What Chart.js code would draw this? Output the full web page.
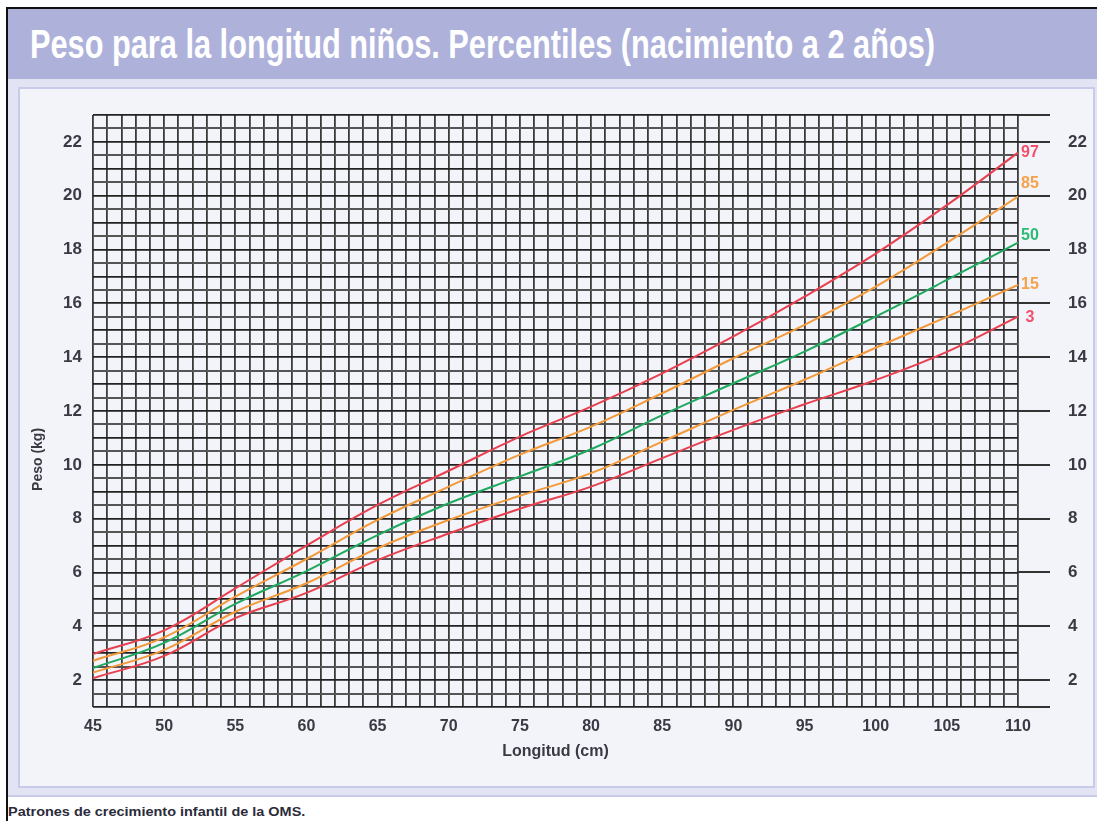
<!DOCTYPE html>
<html>
<head>
<meta charset="utf-8">
<script src="https://cdn.jsdelivr.net/npm/chart.js@4/dist/chart.umd.min.js"></script>
<style>
  body { margin: 0; background: #fff; width: 1097px; height: 821px; overflow: hidden; position: relative; }
  .abs { position: absolute; }
  #topline { left: 6px; top: 7px; right: 0; height: 2px; background: #111; }
  #leftline { left: 6px; top: 7px; bottom: 0; width: 2px; background: #111; }
  #band { left: 8px; top: 9px; right: 0; height: 70px; background: #aeb2db; }
  #outer { left: 8px; top: 79px; right: 0; height: 716px; background: #e2e3f3; border-bottom: 2px solid #c9cbe9; }
  #panel { left: 18px; top: 87px; width: 1073px; height: 697px; background: #f3f3fa; border: 2px solid #c8cbe9; }
  #title { left: 30px; top: 21px; color: #fff; font: bold 40px "Liberation Sans", Arial, sans-serif; line-height: 46px; white-space: nowrap; transform-origin: 0 0; }
  #foot { left: 8px; top: 804px; color: #2b2b3a; font: bold 13px "Liberation Sans", Arial, sans-serif; white-space: nowrap; transform-origin: 0 0; }
  canvas { position: absolute; left: 0; top: 0; }
</style>
</head>
<body>
<div class="abs" id="band"></div>
<div class="abs" id="outer"></div>
<div class="abs" id="panel"></div>
<div class="abs" id="topline"></div>
<div class="abs" id="leftline"></div>
<div class="abs" id="title">Peso para la longitud niños. Percentiles (nacimiento a 2 años)</div>
<div class="abs" id="foot">Patrones de crecimiento infantil de la OMS.</div>
<canvas id="chart" width="1097" height="821"></canvas>
<script>
// longitud (cm) and peso (kg)
var longitud = [45, 50, 55, 60, 65, 70, 75, 80, 85, 90, 95, 100, 105, 110];
var p97 = [2.97, 3.85, 5.41, 7.0, 8.51, 9.78, 11.05, 12.16, 13.4, 14.77, 16.25, 17.85, 19.65, 21.6];
var p85 = [2.72, 3.59, 5.1, 6.5, 7.95, 9.19, 10.38, 11.42, 12.66, 13.96, 15.2, 16.62, 18.25, 19.97];
var p50 = [2.45, 3.38, 4.83, 6.05, 7.39, 8.57, 9.57, 10.58, 11.85, 13.03, 14.21, 15.51, 16.87, 18.26];
var p15 = [2.28, 3.12, 4.54, 5.6, 6.9, 7.95, 8.85, 9.69, 10.86, 12.04, 13.16, 14.35, 15.5, 16.69];
var p3 = [2.07, 2.9, 4.3, 5.24, 6.46, 7.45, 8.37, 9.19, 10.25, 11.3, 12.25, 13.15, 14.2, 15.51];

var percentiles = ["97", "85", "50", "15", "3"];
var xTickLabels = [45, 50, 55, 60, 65, 70, 75, 80, 85, 90, 95, 100, 105, 110];
var yTickLabels = [2, 4, 6, 8, 10, 12, 14, 16, 18, 20, 22];

var FONT = "'Liberation Sans', Arial, sans-serif";
var lineColors = ["#e8404f", "#f29a3a", "#1fa95e", "#f29a3a", "#e8404f"];
var labelColors = ["#f2506a", "#f5a24a", "#2dba72", "#f5a24a", "#f2506a"];
var labelShift = [0, -13, -7, 0, 1];

// squeeze the header and footer texts to the width they take in the original
function fitWidth(id, w) {
  var el = document.getElementById(id);
  el.style.transform = "scaleX(" + (w / el.offsetWidth) + ")";
}
fitWidth("title", 905);
fitWidth("foot", 297);

function toPoints(arr) {
  return longitud.map(function (l, i) { return { x: l, y: arr[i] }; });
}

var series = [p97, p85, p50, p15, p3];
var datasets = series.map(function (s, i) {
  return {
    label: percentiles[i],
    data: toPoints(s),
    borderColor: lineColors[i],
    borderWidth: 2,
    pointRadius: 0,
    fill: false,
    tension: 0.4,
  };
});

// percentile names at the right end of each curve, and the y title (sits below centre)
var extraText = {
  id: "extraText",
  afterDatasetsDraw: function (chart) {
    var ctx = chart.ctx;
    var area = chart.chartArea;
    ctx.save();
    ctx.font = "bold 16px " + FONT;
    ctx.textAlign = "center";
    ctx.textBaseline = "middle";
    chart.data.datasets.forEach(function (ds, i) {
      var meta = chart.getDatasetMeta(i);
      var last = meta.data[meta.data.length - 1];
      ctx.fillStyle = labelColors[i];
      ctx.fillText(ds.label, area.right + 12, last.y + labelShift[i]);
    });
    ctx.translate(38, chart.scales.y.getPixelForValue(10.2));
    ctx.rotate(-Math.PI / 2);
    ctx.font = "bold 14px " + FONT;
    ctx.fillStyle = "#3a3a44";
    ctx.fillText("Peso (kg)", 0, 0);
    ctx.restore();
  },
};

var ctx = document.getElementById("chart").getContext("2d");
var chart = new Chart(ctx, {
  type: "line",
  data: { datasets: datasets },
  plugins: [extraText],
  options: {
    responsive: false,
    animation: false,
    layout: { padding: { top: 115, left: 0, right: 0, bottom: 31 } },
    plugins: { legend: { display: false }, tooltip: { enabled: false } },
    scales: {
      x: {
        type: "linear",
        min: 45,
        max: 110,
        afterFit: function (s) { s.height = 83; },
        border: { display: false },
        grid: { color: "#3a3a3a", lineWidth: 1.8, drawTicks: false },
        ticks: {
          stepSize: 1,
          autoSkip: false,
          maxRotation: 0,
          padding: 10,
          color: "#3a3a44",
          font: { family: FONT, size: 16, weight: "bold" },
          callback: function (v) { return xTickLabels.indexOf(v) >= 0 ? String(v) : ""; },
        },
        title: {
          display: true,
          text: "Longitud (cm)",
          color: "#3a3a44",
          font: { family: FONT, size: 16, weight: "bold" },
          padding: { top: 0, bottom: 29 },
        },
      },
      y: {
        type: "linear",
        min: 1,
        max: 23,
        afterFit: function (s) { s.width = 93; },
        border: { display: false },
        grid: {
          drawTicks: false,
          color: function (c) { return Number.isInteger(c.tick.value) ? "#222" : "#555"; },
          lineWidth: function (c) { return Number.isInteger(c.tick.value) ? 1.8 : 2; },
        },
        ticks: {
          stepSize: 0.5,
          autoSkip: false,
          padding: 11,
          color: "#3a3a44",
          font: { family: FONT, size: 17, weight: "bold" },
          callback: function (v) { return yTickLabels.indexOf(v) >= 0 ? String(v) : ""; },
        },
      },
      y2: {
        type: "linear",
        position: "right",
        min: 1,
        max: 23,
        afterFit: function (s) { s.width = 79; },
        afterBuildTicks: function (s) {
          s.ticks = [{ value: 1 }].concat(yTickLabels.map(function (v) { return { value: v }; }), [{ value: 23 }]);
        },
        border: { display: false },
        grid: { drawOnChartArea: false, drawTicks: true, tickLength: 32, color: "#333", lineWidth: 2 },
        ticks: {
          autoSkip: false,
          padding: 18,
          color: "#3a3a44",
          font: { family: FONT, size: 17, weight: "bold" },
          callback: function (v) { return yTickLabels.indexOf(v) >= 0 ? String(v) : ""; },
        },
      },
    },
  },
});
</script>
</body>
</html>
